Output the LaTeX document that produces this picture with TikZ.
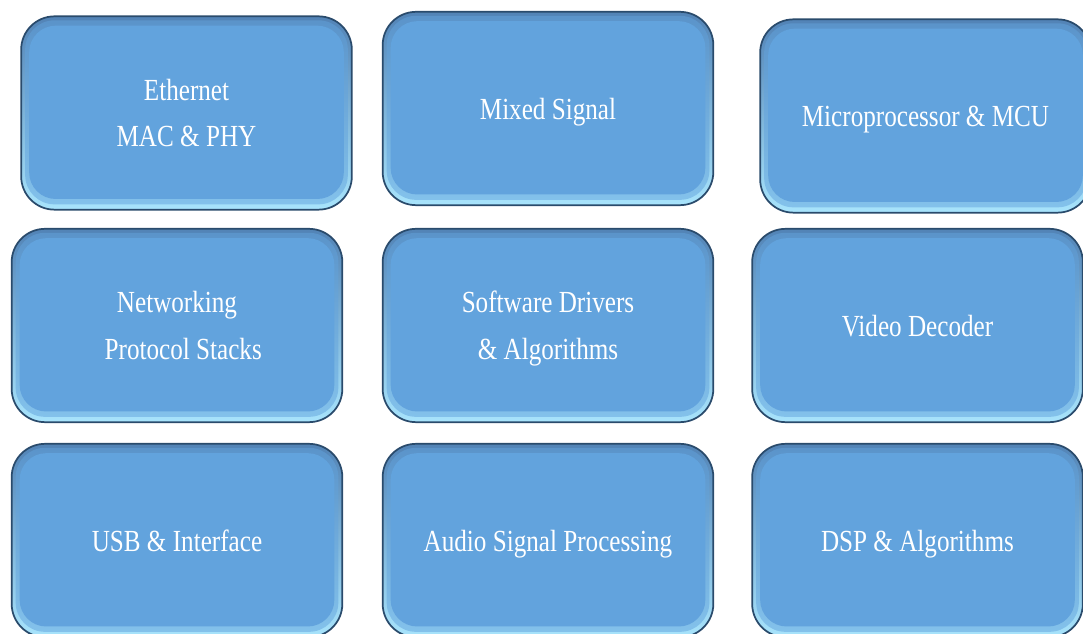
\documentclass[tikz,border=0pt]{standalone}
\usepackage{fontspec}
\newfontfamily\tilefont{Liberation Serif}[FakeStretch=0.82]
\usepackage{tikz}
\usetikzlibrary{positioning,calc}

\definecolor{tilefill}{HTML}{62A3DD}
\definecolor{tiletop}{HTML}{5283B6}
\definecolor{tilelow}{HTML}{A8E4FC}
\definecolor{tileedge}{HTML}{2A4B6C}

\begin{document}
\begin{tikzpicture}[
    x=0.75pt, y=-0.75pt,
    tile/.style={rounded corners=25pt, draw=tileedge, line width=1.3pt,
        top color=tiletop, middle color=tilefill!85!tiletop, bottom color=tilelow,
        minimum width=248pt, minimum height=145pt, inner sep=0pt, text depth=0pt,
        text=white, align=center, font=\tilefont\fontsize{23}{35}\selectfont,
        path picture={
            \fill[tilefill, opacity=0.5, rounded corners=22pt]
                ([shift={(3pt,-3pt)}]path picture bounding box.north west) rectangle
                ([shift={(-3pt,4pt)}]path picture bounding box.south east);
            \fill[tilefill, rounded corners=20pt]
                ([shift={(6pt,-7pt)}]path picture bounding box.north west) rectangle
                ([shift={(-6pt,8pt)}]path picture bounding box.south east);
        }}
]
    \useasboundingbox (0,0) rectangle (1083,634);

    % Tiles
    \foreach \x/\y/\name/\txt in {
        186.5/113/t1/{Ethernet\\MAC \& PHY},
        548/108.5/t2/{Mixed Signal},
        925.5/116/t3/{Microprocessor \& MCU},
        177/325.5/t4/{Networking\\\ \ Protocol Stacks},
        548/325.5/t5/{Software Drivers\\\& Algorithms},
        917.5/325.5/t6/{Video Decoder},
        177/540.5/t7/{USB \& Interface},
        548/540.5/t8/{Audio Signal Processing},
        917.5/540.5/t9/{DSP \& Algorithms}} {
        \node[tile] (\name) at (\x,\y) {\txt};
    }
\end{tikzpicture}
\end{document}
